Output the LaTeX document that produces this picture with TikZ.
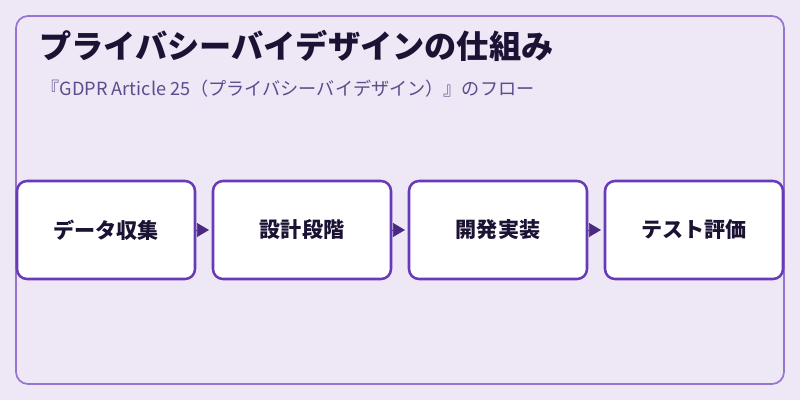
\documentclass[tikz,border=0pt]{standalone}
\usepackage{fontspec}
\setmainfont{Noto Sans CJK JP}
\usepackage{tikz}
\usetikzlibrary{positioning,arrows.meta}
\definecolor{bgcol}{HTML}{EDE7F6}
\definecolor{framecol}{HTML}{9575CD}
\definecolor{boxcol}{HTML}{673AB7}
\definecolor{arrcol}{HTML}{4A2A80}
\definecolor{titlecol}{HTML}{1C1233}
\definecolor{subcol}{HTML}{5E4B8B}
\tikzstyle{step1}=[draw=boxcol, fill=white, rounded corners=0.25cm, minimum height = 2.45cm, minimum width=4.45cm, line width=1.8pt, font=\fontsize{15}{18}\selectfont\bfseries, text=titlecol]

\begin{document}
\begin{tikzpicture}[node distance=4.9cm,auto,>={Triangle[length=0.3cm,width=0.35cm]}]
\useasboundingbox (0,0) rectangle (20,-10);
\fill[bgcol] (0,0) rectangle (20,-10);
\draw[framecol, line width=1.2pt, rounded corners=0.3cm] (0.4,-0.4) rectangle (19.6,-9.6);

\node[anchor=base west, text=titlecol, font=\fontsize{22.9}{27}\selectfont\bfseries] at (0.86,-1.47) (title) {プライバシーバイデザインの仕組み};
\node[anchor=base west, text=subcol, font=\fontsize{12.9}{15}\selectfont] at (0.92,-2.38) (subtitle) {『GDPR Article 25（プライバシーバイデザイン）』のフロー};

\node[step1] at (2.65,-5.75) (collect) {データ収集};
\node[step1, right of = collect] (design) {設計段階};
\node[step1, right of = design] (impl) {開発実装};
\node[step1, right of = impl] (test) {テスト評価};

\draw[->, arrcol, line width=0.5pt, shorten >=0.07cm] (collect) -- (design);
\draw[->, arrcol, line width=0.5pt, shorten >=0.07cm] (design) -- (impl);
\draw[->, arrcol, line width=0.5pt, shorten >=0.07cm] (impl) -- (test);
\end{tikzpicture}
\end{document}
